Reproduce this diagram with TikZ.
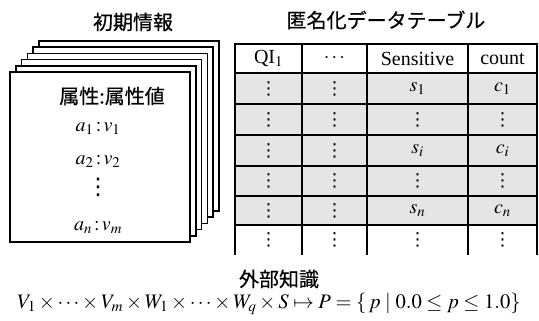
\documentclass[tikz,border=0pt]{standalone}
\usepackage{mathptmx}
\usepackage{fontspec}
\setmainfont{Liberation Serif}
\newfontfamily\cjk[FakeBold=0.5]{Noto Sans CJK JP}
\newfontfamily\dvs{DejaVu Sans}
\newcommand\cellvdots{{\dvs\fontsize{18}{20}\selectfont ⋮}}
\newcommand\pagevdots{{\dvs\fontsize{23}{26}\selectfont ⋮}}
\begin{document}
\begin{tikzpicture}[x=1pt,y=-1pt,
  page/.style={draw=black, fill=white, line width=1.5pt},
  cjktext/.style={font=\cjk\fontsize{20}{24}\selectfont, inner sep=0pt},
  serif/.style={font=\fontsize{20}{24}\selectfont, inner sep=0pt},
  gridline/.style={line width=1.8pt, line cap=rect},
  rowfill/.style={fill=black!10}]
\useasboundingbox (0,0) rectangle (539,321);

% ---- stack of pages ----
\foreach \k in {5,4,3,2,1} {
  \draw[page] (10+5.8*\k, 72-6.2*\k) rectangle ++(180,170);
}
\draw[page] (10,72) rectangle (190,242);

\node[cjktext] (title1) at (133,22) {初期情報};
\node[cjktext] (attr) at (112,96) {属性:属性値};
\node[serif] (a1) at (98,128) {$a_1\,{:}\,v_1$};
\node[serif] (a2) at (98,161) {$a_2\,{:}\,v_2$};
\node[serif] (pdots) at (98,187) {\pagevdots};
\node[serif] (an) at (98,228) {$a_n\,{:}\,v_m$};

% ---- table ----
\node[cjktext] (title2) at (386,20) {匿名化データテーブル};
\fill[rowfill] (235,73) rectangle (537,225);
\foreach \yy in {44,73,104,135,166,196,225} {
  \draw[gridline] (235,\yy) -- (537,\yy);
}
\foreach \xx in {235,302,367,468,537} {
  \draw[gridline] (\xx,44) -- (\xx,254);
}
% header
\node[serif] (h1) at (268.5,58.5) {QI$_1$};
\node[serif] (h2) at (334.5,58.5) {$\cdots$};
\node[serif] (h3) at (417.5,58.5) {Sensitive};
\node[serif] (h4) at (502.5,58.5) {count};
% rows
\foreach \yy [count=\r] in {88.5,119.5,150.5,181,210.5,239.5} {
  \node[serif] (r\r c1) at (268.5,\yy) {\cellvdots};
  \node[serif] (r\r c2) at (334.5,\yy) {\cellvdots};
}
\node[serif] (r1c3) at (417.5,88.5) {$s_1$};
\node[serif] (r2c3) at (417.5,119.5) {\cellvdots};
\node[serif] (r3c3) at (417.5,150.5) {$s_i$};
\node[serif] (r4c3) at (417.5,181) {\cellvdots};
\node[serif] (r5c3) at (417.5,210.5) {$s_n$};
\node[serif] (r6c3) at (417.5,239.5) {\cellvdots};
\node[serif] (r1c4) at (502.5,88.5) {$c_1$};
\node[serif] (r2c4) at (502.5,119.5) {\cellvdots};
\node[serif] (r3c4) at (502.5,150.5) {$c_i$};
\node[serif] (r4c4) at (502.5,181) {\cellvdots};
\node[serif] (r5c4) at (502.5,210.5) {$c_n$};
\node[serif] (r6c4) at (502.5,239.5) {\cellvdots};

% ---- external knowledge ----
\node[cjktext] (title3) at (279,279) {外部知識};
\node[serif, font=\fontsize{20.6}{24}\selectfont] (formula) at (269,304) {$V_1\times\cdots\times V_m\times W_1\times\cdots\times W_q\times S\mapsto P=\{\,p\mid 0.0\le p\le 1.0\}$};
\end{tikzpicture}
\end{document}
